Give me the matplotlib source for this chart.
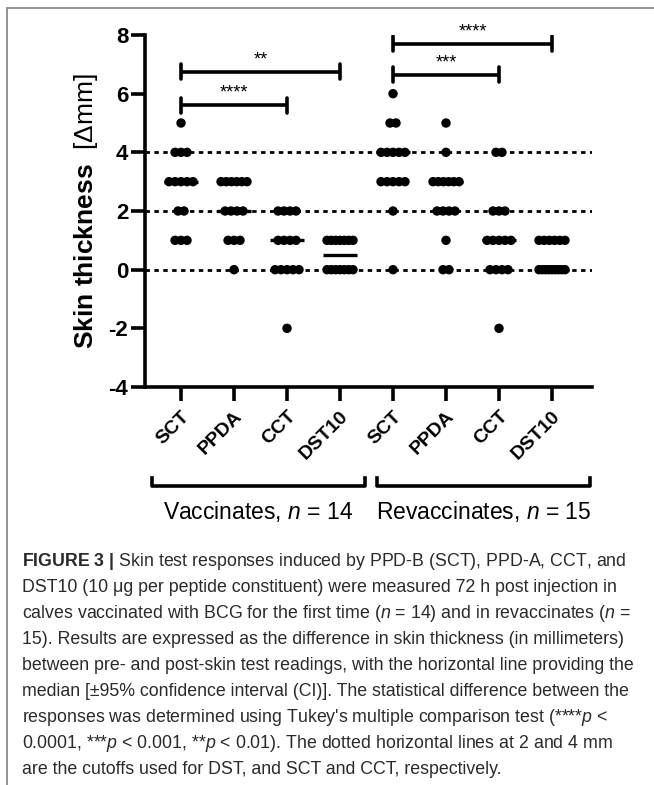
import numpy as np
import matplotlib
matplotlib.use("Agg")
import matplotlib.pyplot as plt
from matplotlib.patches import Rectangle

plt.rcParams['font.family'] = ['Liberation Sans', 'DejaVu Sans']
plt.rcParams['mathtext.fontset'] = 'custom'
plt.rcParams['mathtext.rm'] = 'Liberation Sans'
plt.rcParams['mathtext.it'] = 'Liberation Sans:italic'
plt.rcParams['mathtext.bf'] = 'Liberation Sans:bold'

# data (skin thickness difference, mm)
categories = ["SCT", "PPDA", "CCT", "DST10", "SCT", "PPDA", "CCT", "DST10"]
vacc_sct = [5, 4, 4, 4, 3, 3, 3, 3, 3, 2, 2, 1, 1, 1]
vacc_ppda = [3, 3, 3, 3, 3, 3, 2, 2, 2, 2, 1, 1, 1, 0]
vacc_cct = [2, 2, 2, 2, 1, 1, 1, 1, 0, 0, 0, 0, 0, -2]
vacc_dst10 = [1, 1, 1, 1, 1, 1, 1, 0, 0, 0, 0, 0, 0, 0]
rev_sct = [6, 5, 5, 4, 4, 4, 4, 4, 3, 3, 3, 3, 3, 2, 0]
rev_ppda = [5, 4, 3, 3, 3, 3, 3, 3, 2, 2, 2, 2, 1, 0, 0]
rev_cct = [4, 4, 2, 2, 2, 1, 1, 1, 1, 1, 0, 0, 0, 0, -2]
rev_dst10 = [1, 1, 1, 1, 1, 1, 0, 0, 0, 0, 0, 0, 0, 0, 0]
groups = [vacc_sct, vacc_ppda, vacc_cct, vacc_dst10, rev_sct, rev_ppda, rev_cct, rev_dst10]

cutoffs = [0, 2, 4]
# (from, to, height, label)
sig = [(1, 4, 6.75, "**"), (1, 3, 5.6, "****"), (5, 8, 7.7, "****"), (5, 7, 6.65, "***")]

fig = plt.figure(figsize=(6.54, 7.85), dpi=100)
ax = fig.add_axes([0.2217, 0.507, 0.6835, 0.4484])

for c in cutoffs:
    ax.axhline(c, color="black", lw=2.0, ls=(0, (1.6, 1.6)), zorder=1)

# GraphPad-like scatter: dots spread sideways, packed tighter when a row is long
step = 0.113
maxspan = 0.49
for i, vals in enumerate(groups):
    pos = i + 1
    vals = np.array(vals)
    for v in np.unique(vals):
        n = np.sum(vals == v)
        d = step if n < 2 else min(step, maxspan / (n - 1))
        xs = pos + (np.arange(n) - (n - 1) / 2) * d
        ax.scatter(xs, np.full(n, v), s=46, color="black", edgecolor="none", zorder=3)
    med = np.median(vals)
    ax.plot([pos - 0.32, pos + 0.32], [med, med], color="black", lw=2.4,
            solid_capstyle="butt", zorder=2)

for a, b, h, lab in sig:
    ax.plot([a, b], [h, h], color="black", lw=2.6, solid_capstyle="butt")
    ax.plot([a, a], [h - 0.25, h + 0.25], color="black", lw=2.6, solid_capstyle="round")
    ax.plot([b, b], [h - 0.25, h + 0.25], color="black", lw=2.6, solid_capstyle="round")
    ax.text((a + b) / 2, h + 0.12, lab, ha="center", va="bottom", fontsize=13)

ax.set_xlim(0.32, 8.755)
ax.set_ylim(-4, 8)
ax.set_yticks([-4, -2, 0, 2, 4, 6, 8])
ax.set_yticklabels(["-4", "-2", "0", "2", "4", "6", "8"], fontsize=16, fontweight="bold")
ax.set_xticks(range(1, 9))
ax.set_xticklabels(categories, fontsize=14, fontweight="bold", rotation=45,
                   ha="right", va="top", rotation_mode="anchor")
ax.tick_params(axis="both", length=10, width=2.6, pad=2)
ax.tick_params(axis="x", pad=5)
for s in ["top", "right"]:
    ax.spines[s].set_visible(False)
for s in ["left", "bottom"]:
    ax.spines[s].set_linewidth(2.6)
ax.set_ylabel(r"$\bf{Skin\ thickness}$  [Δmm]", fontsize=19, labelpad=6)

# group brackets under the axis
W, H = 654, 785
def px(x, y):
    return x / W, 1 - y / H

for x0, x1, lab in [(152, 365, r"Vaccinates, $n$ = 14"), (377, 590, r"Revaccinates, $n$ = 15")]:
    xa, ya = px(x0, 486)
    xb, _ = px(x1, 486)
    _, yt = px(0, 478)
    fig.add_artist(plt.Line2D([xa, xa, xb, xb], [yt, ya, ya, yt], color="black", lw=2.6,
                              transform=fig.transFigure))
    tx, ty = px((x0 + x1) / 2, 511)
    fig.text(tx, ty, lab, ha="center", va="center", fontsize=16.5)

# frame
x0, y0 = px(7, 8)
fig.add_artist(Rectangle((x0, -0.05), 1.1, y0 + 0.05, transform=fig.transFigure,
                         fill=False, edgecolor="#808080", lw=1.2))

caption = [
    r"$\bf{FIGURE\ 3\ |}$ Skin test responses induced by PPD-B (SCT), PPD-A, CCT, and",
    r"DST10 (10 μg per peptide constituent) were measured 72 h post injection in",
    r"calves vaccinated with BCG for the first time ($n$ = 14) and in revaccinates ($n$ =",
    r"15). Results are expressed as the difference in skin thickness (in millimeters)",
    r"between pre- and post-skin test readings, with the horizontal line providing the",
    r"median [±95% confidence interval (CI)]. The statistical difference between the",
    r"responses was determined using Tukey's multiple comparison test (****$p$ <",
    r"0.0001, ***$p$ < 0.001, **$p$ < 0.01). The dotted horizontal lines at 2 and 4 mm",
    r"are the cutoffs used for DST, and SCT and CCT, respectively.",
]
for k, line in enumerate(caption):
    tx, ty = px(22, 562 + 26 * k)
    fig.text(tx, ty, line, ha="left", va="center", fontsize=12.8, color="#2a2a2a")

fig.savefig("out.png", dpi=100)
